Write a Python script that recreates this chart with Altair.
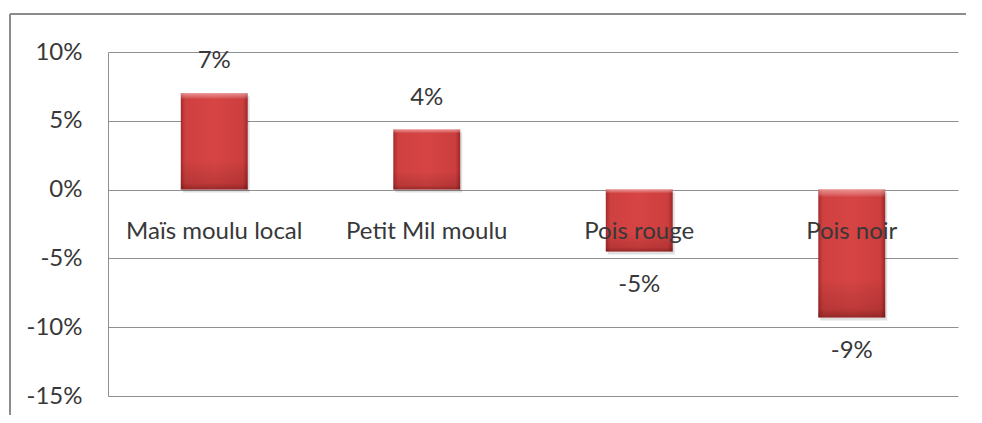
import altair as alt
import pandas as pd

categories = ["Maïs moulu local", "Petit Mil moulu", "Pois rouge", "Pois noir"]
values = [0.07, 0.0436, -0.045, -0.093]
labels = ["7%", "4%", "-5%", "-9%"]
y_ticks = [-0.15, -0.10, -0.05, 0.0, 0.05, 0.10]

df = pd.DataFrame({"cat": categories, "val": values, "lab": labels})

FONT = "Lato"
FS = 24
TXT = "#383838"
GRID = "#8f8f8f"

x = alt.X("cat:N", sort=categories,
          scale=alt.Scale(paddingInner=0.685, paddingOuter=0.3425), axis=None)
y = alt.Y("val:Q",
          scale=alt.Scale(domain=[-0.15, 0.10], nice=False, zero=False),
          axis=alt.Axis(values=y_ticks, title=None, grid=True, gridColor=GRID,
                        gridWidth=1, ticks=False, domainColor=GRID,
                        labelExpr="(datum.value < -0.0001 ? '-' : '') + format(abs(datum.value), '.0%')",
                        labelFont=FONT, labelFontSize=FS, labelColor=TXT,
                        labelPadding=26))

base = alt.Chart(df)

shadow = base.mark_bar(color="rgba(0,0,0,0.12)", xOffset=2, yOffset=3).encode(x=x, y=y)

face = alt.Gradient(
    gradient="linear", x1=0, x2=1, y1=0, y2=0,
    stops=[alt.GradientStop(offset=0, color="#a52c2c"),
           alt.GradientStop(offset=0.07, color="#cf4040"),
           alt.GradientStop(offset=0.5, color="#d74444"),
           alt.GradientStop(offset=0.93, color="#cc3e3e"),
           alt.GradientStop(offset=1, color="#9c2828")])
bars = base.mark_bar(color=face).encode(x=x, y=y)

bevel = alt.Gradient(
    gradient="linear", x1=0, x2=0, y1=0, y2=1,
    stops=[alt.GradientStop(offset=0, color="rgba(255,200,200,0.55)"),
           alt.GradientStop(offset=0.06, color="rgba(255,255,255,0.0)"),
           alt.GradientStop(offset=0.7, color="rgba(0,0,0,0.0)"),
           alt.GradientStop(offset=0.93, color="rgba(60,0,0,0.15)"),
           alt.GradientStop(offset=1, color="rgba(60,0,0,0.4)")])
overlay = base.mark_bar(color=bevel).encode(x=x, y=y)

pos_lab = base.transform_filter("datum.val > 0").mark_text(
    font=FONT, fontSize=FS, color=TXT, dy=-32, baseline="middle").encode(
    x=x, y=alt.Y("val:Q"), text="lab:N")
neg_lab = base.transform_filter("datum.val < 0").mark_text(
    font=FONT, fontSize=FS, color=TXT, dy=33, baseline="middle").encode(
    x=x, y=alt.Y("val:Q"), text="lab:N")

cat_lab = base.mark_text(font=FONT, fontSize=FS, color=TXT, dy=42,
                         baseline="middle").encode(
    x=x, y=alt.datum(0), text="cat:N")

one = alt.Chart(pd.DataFrame({"a": [0]}))
border_v = one.mark_rule(color="#8c8c8c", strokeWidth=2).encode(
    x=alt.value(-98), y=alt.value(-38), y2=alt.value(420))
border_h = one.mark_rule(color="#8c8c8c", strokeWidth=2).encode(
    x=alt.value(-98), x2=alt.value(900), y=alt.value(-38))

chart = alt.layer(shadow, bars, overlay, pos_lab, neg_lab, cat_lab,
                  border_v, border_h).properties(
    width=850, height=344,
    padding={"left": 100, "top": 44, "right": 8, "bottom": 19},
    autosize=alt.AutoSizeParams(type="none"),
    background="white",
).configure_view(stroke=None)

chart.save("out.html", embed_options={"renderer": "svg", "actions": False})
